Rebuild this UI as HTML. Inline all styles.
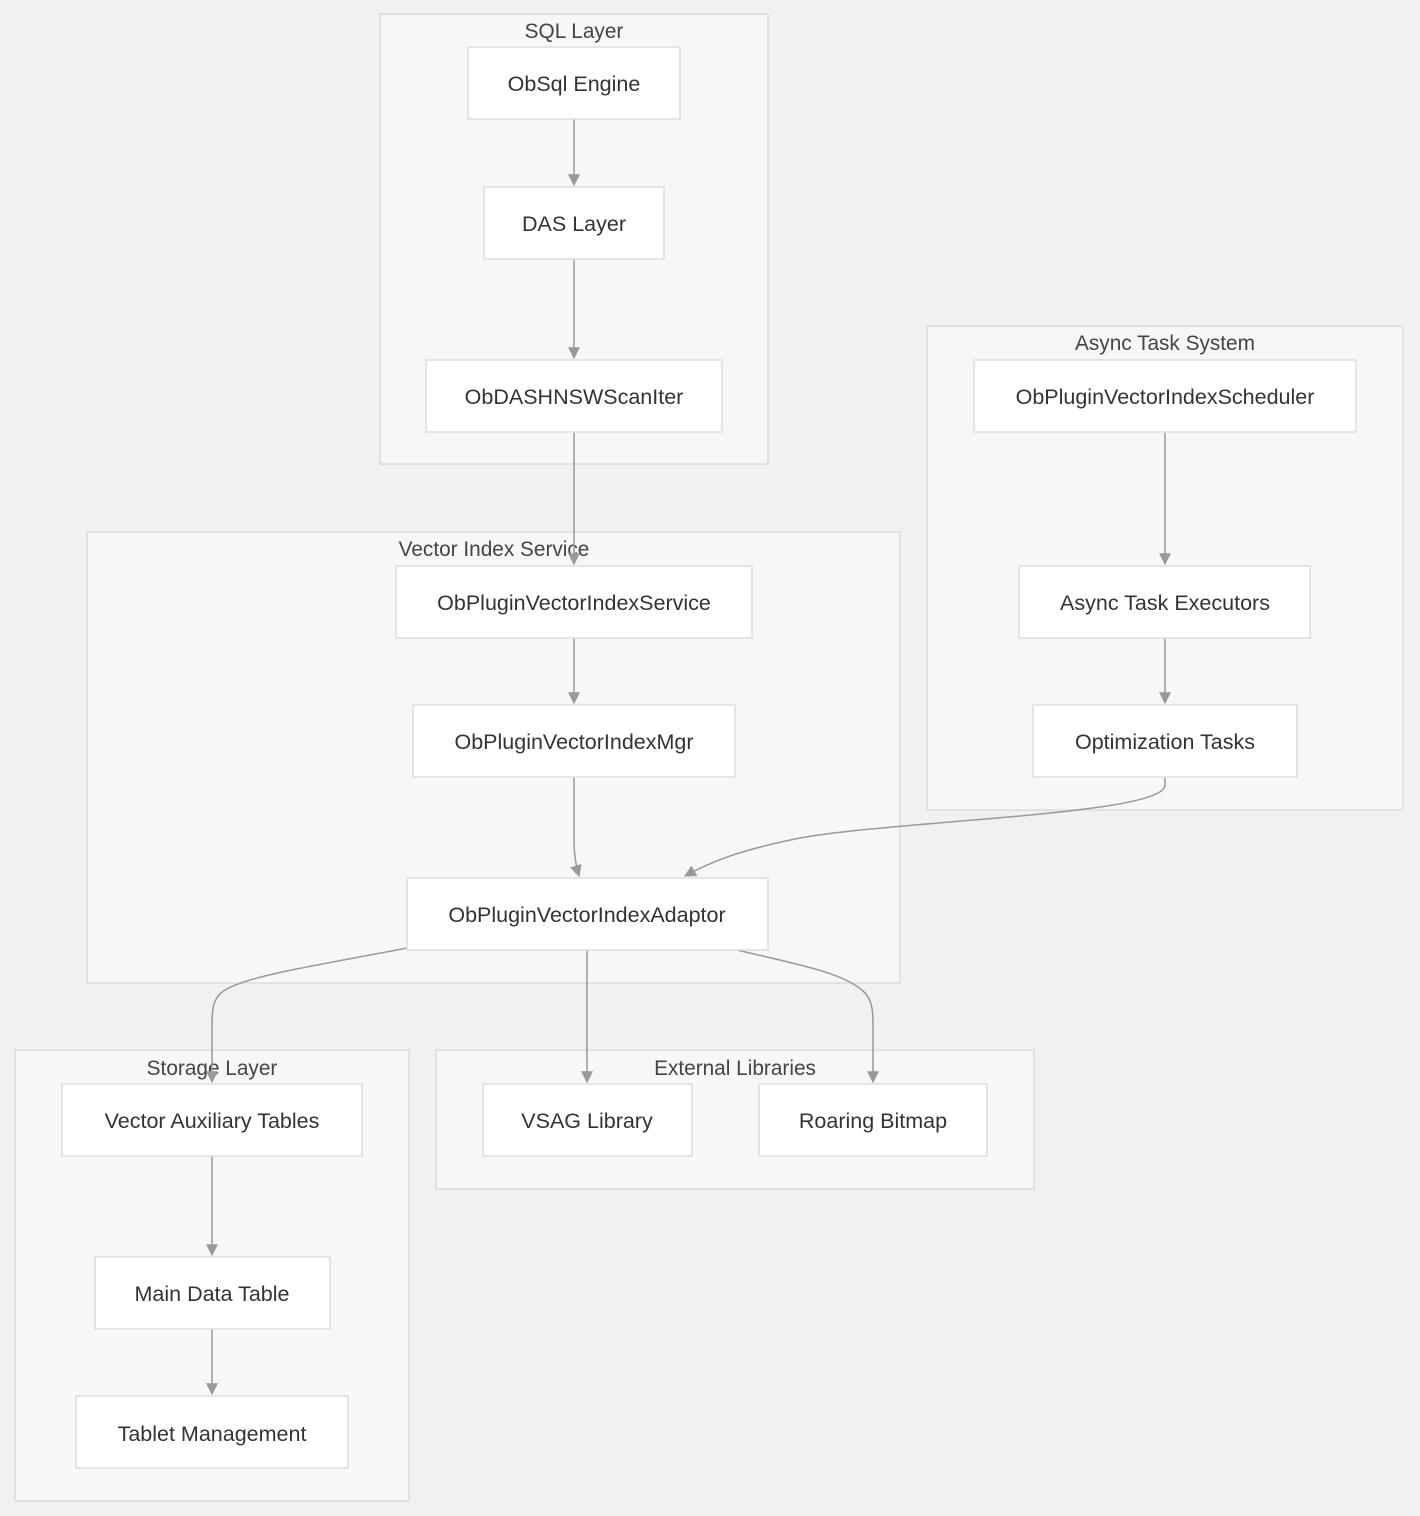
<!DOCTYPE html>
<html><head><meta charset="utf-8"><style>
html,body{margin:0;padding:0;background:#f2f1ef;}
svg{display:block;}
text{font-family:"Liberation Sans",sans-serif;fill:#333;}
.c{fill:#f7f7f7;stroke:#dcdcdc;stroke-width:1.5;}
.n{fill:#fff;stroke:#dedede;stroke-width:1.5;}
.e{fill:none;stroke:#999;stroke-width:1.5;}
.ct{font-size:20.8px;fill:#444;}
.nt{font-size:21.5px;}
</style></head><body>
<svg width="1420" height="1516" viewBox="0 0 1420 1516" xmlns="http://www.w3.org/2000/svg">
<defs>
<marker id="m" viewBox="0 0 10 10" refX="9" refY="5" markerWidth="12" markerHeight="12" orient="auto-start-reverse" markerUnits="userSpaceOnUse"><path d="M0,0 L10,5 L0,10 z" fill="#999"/></marker></defs>

<rect class="c" x="380" y="14" width="388" height="450"/>
<rect class="c" x="927" y="326" width="476" height="484"/>
<rect class="c" x="87" y="532" width="813" height="451"/>
<rect class="c" x="15" y="1050" width="394" height="451"/>
<rect class="c" x="436" y="1050" width="598" height="139"/>

<text class="ct" x="574" y="38" text-anchor="middle">SQL Layer</text>
<text class="ct" x="1165" y="350" text-anchor="middle">Async Task System</text>
<text class="ct" x="494" y="556" text-anchor="middle">Vector Index Service</text>
<text class="ct" x="212" y="1075" text-anchor="middle">Storage Layer</text>
<text class="ct" x="735" y="1075" text-anchor="middle">External Libraries</text>

<g>
<path class="e" d="M574,119 L574,185" marker-end="url(#m)"/>
<path class="e" d="M574,259 L574,358" marker-end="url(#m)"/>
<path class="e" d="M574,432 L574,564" marker-end="url(#m)"/>
<path class="e" d="M574,638 L574,703" marker-end="url(#m)"/>
<path class="e" d="M574,777 L574,840 Q574,860 579,876" marker-end="url(#m)"/>
<path class="e" d="M1165,432 L1165,564" marker-end="url(#m)"/>
<path class="e" d="M1165,638 L1165,703" marker-end="url(#m)"/>
<path class="e" d="M1165,777 L1165,785 C1165,815 900,820 800,838 C740,850 710,862 685,876" marker-end="url(#m)"/>
<path class="e" d="M407,948 C320,965 250,975 225,990 C212,998 212,1010 212,1030 L212,1082" marker-end="url(#m)"/>
<path class="e" d="M587,950 L587,1082" marker-end="url(#m)"/>
<path class="e" d="M737,950 C800,965 840,972 862,990 C874,1000 873,1015 873,1030 L873,1082" marker-end="url(#m)"/>
<path class="e" d="M212,1156 L212,1255" marker-end="url(#m)"/>
<path class="e" d="M212,1329 L212,1394" marker-end="url(#m)"/>
</g>

<rect class="n" x="468" y="47" width="212" height="72"/>
<text class="nt" x="574" y="91" text-anchor="middle">ObSql Engine</text>
<rect class="n" x="484" y="187" width="180" height="72"/>
<text class="nt" x="574" y="231" text-anchor="middle">DAS Layer</text>
<rect class="n" x="426" y="360" width="296" height="72"/>
<text class="nt" x="574" y="404" text-anchor="middle">ObDASHNSWScanIter</text>
<rect class="n" x="974" y="360" width="382" height="72"/>
<text class="nt" x="1165" y="404" text-anchor="middle">ObPluginVectorIndexScheduler</text>
<rect class="n" x="1019" y="566" width="291" height="72"/>
<text class="nt" x="1165" y="610" text-anchor="middle">Async Task Executors</text>
<rect class="n" x="1033" y="705" width="264" height="72"/>
<text class="nt" x="1165" y="749" text-anchor="middle">Optimization Tasks</text>
<rect class="n" x="396" y="566" width="356" height="72"/>
<text class="nt" x="574" y="610" text-anchor="middle">ObPluginVectorIndexService</text>
<rect class="n" x="413" y="705" width="322" height="72"/>
<text class="nt" x="574" y="749" text-anchor="middle">ObPluginVectorIndexMgr</text>
<rect class="n" x="407" y="878" width="361" height="72"/>
<text class="nt" x="587" y="922" text-anchor="middle">ObPluginVectorIndexAdaptor</text>
<rect class="n" x="62" y="1084" width="300" height="72"/>
<text class="nt" x="212" y="1128" text-anchor="middle">Vector Auxiliary Tables</text>
<rect class="n" x="95" y="1257" width="235" height="72"/>
<text class="nt" x="212" y="1301" text-anchor="middle">Main Data Table</text>
<rect class="n" x="76" y="1396" width="272" height="72"/>
<text class="nt" x="212" y="1441" text-anchor="middle">Tablet Management</text>
<rect class="n" x="483" y="1084" width="209" height="72"/>
<text class="nt" x="587" y="1128" text-anchor="middle">VSAG Library</text>
<rect class="n" x="759" y="1084" width="228" height="72"/>
<text class="nt" x="873" y="1128" text-anchor="middle">Roaring Bitmap</text>
</svg>
</body></html>
